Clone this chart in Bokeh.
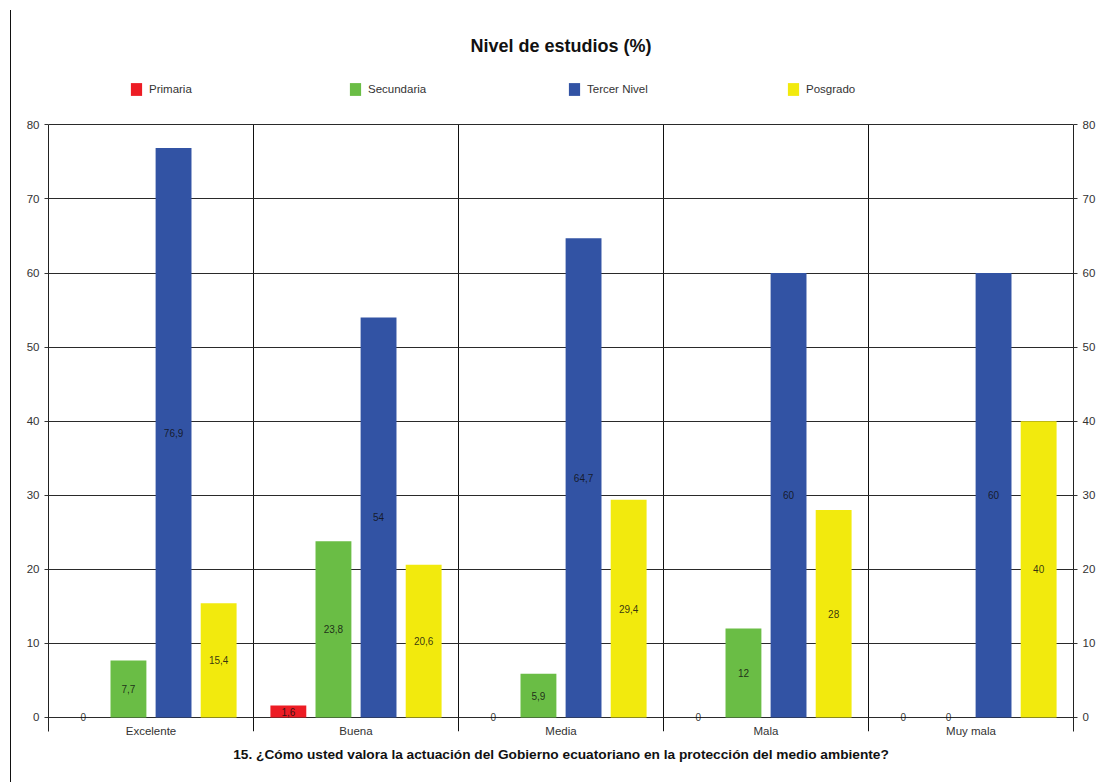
from bokeh.plotting import figure
from bokeh.models import (ColumnDataSource, Range1d, FixedTicker, LinearAxis, Legend,
                          LegendItem, Title, Div)
from bokeh.layouts import row
from bokeh.transform import dodge
from bokeh.core.properties import value
from bokeh.embed import file_html
from bokeh.resources import INLINE

# ---------------- data ----------------
chart_title = "Nivel de estudios (%)"
question = "15. ¿Cómo usted valora la actuación del Gobierno ecuatoriano en la protección del medio ambiente?"
categories = ["Excelente", "Buena", "Media", "Mala", "Muy mala"]
series_names = ["Primaria", "Secundaria", "Tercer Nivel", "Posgrado"]
primaria = [0, 1.6, 0, 0, 0]
secundaria = [7.7, 23.8, 5.9, 12, 0]
tercer_nivel = [76.9, 54, 64.7, 60, 60]
posgrado = [15.4, 20.6, 29.4, 28, 40]
y_ticks = [0, 10, 20, 30, 40, 50, 60, 70, 80]

# ---------------- styles ----------------
colors = ["#ED1C24", "#6ABD45", "#3253A4", "#F2EA0D"]
offsets = [-0.33, -0.11, 0.11, 0.33]
BAR_W = 0.175
FONT = "Liberation Sans"
Y_LOW = -1.9      # separators reach a little below the zero line
Y_TOP = 88.7      # room above the plot for the legend

W, H = 1090, 782
n = len(categories)
centers = [i + 0.5 for i in range(n)]

p = figure(width=W, height=H,
           x_range=Range1d(0, n), y_range=Range1d(Y_LOW, Y_TOP),
           output_backend="svg", toolbar_location=None,
           min_border_left=37, min_border_right=28,
           min_border_top=60, min_border_bottom=51)
p.outline_line_color = None
p.background_fill_color = "white"
p.border_fill_color = "white"

p.title.text = chart_title
p.title.align = "center"
p.title.text_font = FONT
p.title.text_font_size = "18px"
p.title.text_font_style = "bold"
p.title.text_color = "#111111"

# grids
p.ygrid.ticker = FixedTicker(ticks=y_ticks)
p.ygrid.grid_line_color = "#2a2a2a"
p.xgrid.grid_line_color = None

# category separators
bounds_x = list(range(1, n))
p.segment(x0=bounds_x, x1=bounds_x, y0=[Y_LOW] * len(bounds_x), y1=[max(y_ticks)] * len(bounds_x),
          line_color="#111111", line_width=1, level="underlay")

# x axis: category labels
xa = p.xaxis[0]
xa.ticker = FixedTicker(ticks=centers)
xa.major_label_overrides = {c: lab for c, lab in zip(centers, categories)}
xa.axis_line_color = None
xa.major_tick_line_color = None
xa.minor_tick_line_color = None
xa.major_tick_out = 0
xa.major_tick_in = 0
xa.major_label_standoff = -7
xa.major_label_text_font = FONT
xa.major_label_text_font_size = "11.5px"
xa.major_label_text_color = "#333333"

def style_y(ax):
    ax.ticker = FixedTicker(ticks=y_ticks)
    ax.bounds = (Y_LOW, max(y_ticks))
    ax.axis_line_color = "#222222"
    ax.major_tick_line_color = "#333333"
    ax.major_tick_out = 4
    ax.major_tick_in = 0
    ax.minor_tick_line_color = None
    ax.major_label_standoff = 5
    ax.major_label_text_font = FONT
    ax.major_label_text_font_size = "11.5px"
    ax.major_label_text_color = "#333333"

style_y(p.yaxis[0])
ry = LinearAxis()
style_y(ry)
p.add_layout(ry, "right")

def fmt(v):
    return f"{v:g}".replace(".", ",")

renderers = []
for name, vals, color, off in zip(series_names, [primaria, secundaria, tercer_nivel, posgrado], colors, offsets):
    src = ColumnDataSource(dict(x=centers, v=vals, ly=[v / 2 for v in vals], lab=[fmt(v) for v in vals]))
    r = p.vbar(x=dodge("x", off), top="v", bottom=0, width=BAR_W, source=src,
               fill_color=color, line_color=None)
    p.text(x=dodge("x", off), y="ly", text="lab", source=src,
           text_align="center", text_baseline="middle",
           text_font=value(FONT), text_font_size="10px",
           text_color="#111111", text_alpha=0.85)
    renderers.append(r)

legend = Legend(items=[LegendItem(label=nm, renderers=[r]) for nm, r in zip(series_names, renderers)],
                orientation="horizontal", location=(81, 634),
                glyph_width=14, glyph_height=16, label_height=16,
                label_standoff=6, label_width=185, spacing=14,
                padding=0, margin=0, border_line_color=None,
                background_fill_alpha=0,
                label_text_font=FONT, label_text_font_size="11.5px",
                label_text_color="#333333")
p.add_layout(legend, "center")

p.add_layout(Title(text=question, align="center", text_font=FONT,
                   text_font_size="13.7px", text_font_style="bold",
                   text_color="#111111", standoff=11), "below")

# thin page rule on the left
rule = Div(width=1, height=772, margin=(10, 0, 0, 10), styles={"background-color": "#111111"})
page = row(rule, p, spacing=0)

open("out.html", "w").write(file_html(page, INLINE))
